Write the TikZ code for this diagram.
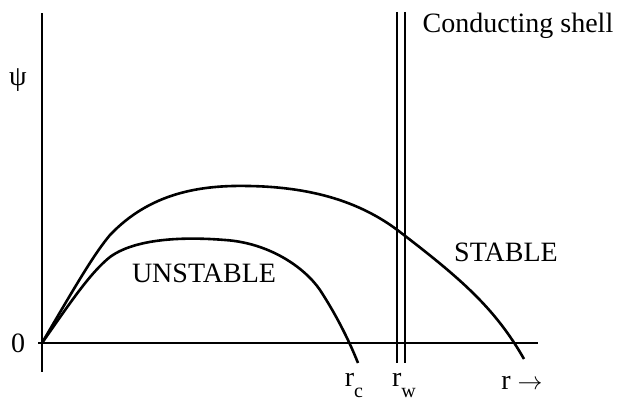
\documentclass[tikz,border=0pt]{standalone}
\usepackage{fontspec}
\setmainfont{Liberation Serif}
\usetikzlibrary{positioning}
\tikzset{
  axis/.style={line width=2.8pt},
  shell/.style={line width=1.9pt},
  curve/.style={line width=2.6pt, line join=round},
  lbl/.style={font=\fontsize{28}{30}\selectfont, inner sep=0pt},
}
\begin{document}
\begin{tikzpicture}[x=1pt, y=1pt]
\useasboundingbox (0,0) rectangle (627,403);
% axes
\coordinate (O) at (42,60);
\coordinate (ytop) at (42,390);
\coordinate (ybot) at (42,31);
\coordinate (xleft) at (38,60);
\coordinate (xright) at (538,60);
\draw[axis] (ybot) -- (ytop);
\draw[axis] (xleft) -- (xright);
% conducting shell
\coordinate (sa) at (397,391);
\coordinate (sb) at (405,391);
\draw[shell] (sa) -- (sa |- 0,40);
\draw[shell] (sb) -- (sb |- 0,40);
% curves
\draw[curve] (O) .. controls (80,125) and (95,150) .. (110,168)
  .. controls (150,210) and (200,218) .. (248,217)
  .. controls (318,216) and (365,198) .. (400,171)
  .. controls (460,125) and (495,95) .. (524,44);
\draw[curve] (O) .. controls (70,100) and (90,130) .. (110,146)
  .. controls (140,168) and (200,165) .. (225,163)
  .. controls (270,160) and (305,135) .. (320,113)
  .. controls (335,90) and (348,65) .. (358,40);
% labels
\node[lbl] (psi) at (18,323) {ψ};
\node[lbl] (zero) at (18,60) {0};
\node[lbl, anchor=base] (rc) at (354,16) {r\raisebox{-0.38em}{\fontsize{20}{20}\selectfont c}};
\node[lbl, anchor=base] (rw) at (404,16) {r\raisebox{-0.38em}{\fontsize{20}{20}\selectfont w}};
\node[lbl, anchor=base] (rr) at (522,13) {r $\rightarrow$};
\node[lbl] (unst) at (204,130) {UNSTABLE};
\node[lbl] (stab) at (506,151) {STABLE};
\node[lbl] (cond) at (518,377) {Conducting shell};
\end{tikzpicture}
\end{document}
